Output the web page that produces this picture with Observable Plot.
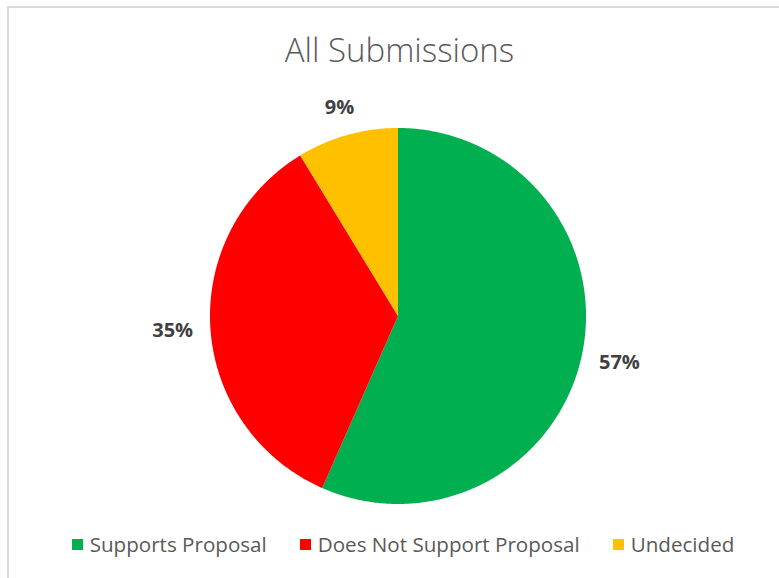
<!DOCTYPE html>
<html><head><meta charset="utf-8">
<script src="https://cdn.jsdelivr.net/npm/d3@7"></script>
<script src="https://cdn.jsdelivr.net/npm/@observablehq/plot@0.6"></script>
<style>
body{margin:0;background:#fff;}
#wrap{position:relative;width:779px;height:578px;overflow:hidden;font-family:"Open Sans",sans-serif;}
#frame{position:absolute;left:7px;top:6px;width:820px;height:620px;border:2px solid #D9D9D9;box-sizing:border-box;pointer-events:none;}
#title{height:80px;box-sizing:border-box;padding-top:28px;line-height:44px;text-align:center;font-size:33px;font-weight:300;color:#595959;padding-left:20px;}
#chart{height:440px;}
#chart svg{display:block;}
#legend{position:absolute;left:0;top:532px;width:779px;height:24px;box-sizing:border-box;display:flex;justify-content:center;gap:33px;padding-left:27px;font-size:20.6px;color:#595959;line-height:24px;}
.item{display:flex;align-items:center;white-space:nowrap;}
.sw{width:11px;height:11px;margin-right:7px;display:inline-block;}
</style></head>
<body>
<div id="wrap">
<div id="frame"></div>
<div id="title"></div>
<div id="chart"></div>
<div id="legend"></div>
</div>
<script>
const title = "All Submissions";
const categories = ["Supports Proposal", "Does Not Support Proposal", "Undecided"];
const values = [56.6, 34.7, 8.7];
const labels = ["57%", "35%", "9%"];
const colors = ["#00B050", "#FF0000", "#FFC000"];

document.getElementById("title").textContent = title;

const W = 779, H = 440, R = 188, cx = 397.5, cy = 235.5;
const total = d3.sum(values);
const pts = [];
const labs = [];
let acc = 0;
const fontSize = 20;
categories.forEach((c, i) => {
  const a0 = acc / total * 2 * Math.PI;
  acc += values[i];
  const a1 = acc / total * 2 * Math.PI;
  pts.push({key: c, x: 0, y: 0});
  const n = Math.max(2, Math.ceil((a1 - a0) / (Math.PI / 360)));
  for (let k = 0; k <= n; k++) {
    const a = a0 + (a1 - a0) * k / n;
    pts.push({key: c, x: Math.sin(a), y: Math.cos(a)});
  }
  const am = (a0 + a1) / 2;
  const hw = labels[i].length * fontSize * 0.33, hh = fontSize * 0.5;
  const s = Math.abs(Math.sin(am)), co = Math.abs(Math.cos(am));
  const ext = Math.min(s > 1e-6 ? hw / s : Infinity, co > 1e-6 ? hh / co : Infinity);
  const d = (R + 18 + ext) / R;
  labs.push({label: labels[i], x: Math.sin(am) * d, y: Math.cos(am) * d});
});

const chart = Plot.plot({
  width: W, height: H,
  marginLeft: cx - R, marginRight: W - cx - R,
  marginTop: cy - R, marginBottom: H - cy - R,
  x: {domain: [-1, 1], axis: null},
  y: {domain: [-1, 1], axis: null},
  color: {domain: categories, range: colors},
  style: {fontFamily: "Open Sans, sans-serif", background: "transparent"},
  marks: [
    Plot.line(pts, {x: "x", y: "y", z: "key", fill: "key", stroke: "none", curve: "linear-closed"}),
    Plot.text(labs, {x: "x", y: "y", text: "label", fill: "#404040", fontSize: fontSize, fontWeight: "bold", fontFamily: "Open Sans, sans-serif"})
  ]
});
document.getElementById("chart").appendChild(chart);

const legend = document.getElementById("legend");
categories.forEach((c, i) => {
  const it = document.createElement("div");
  it.className = "item";
  const sw = document.createElement("span");
  sw.className = "sw";
  sw.style.background = colors[i];
  it.appendChild(sw);
  it.appendChild(document.createTextNode(c));
  legend.appendChild(it);
});
</script>
</body></html>
